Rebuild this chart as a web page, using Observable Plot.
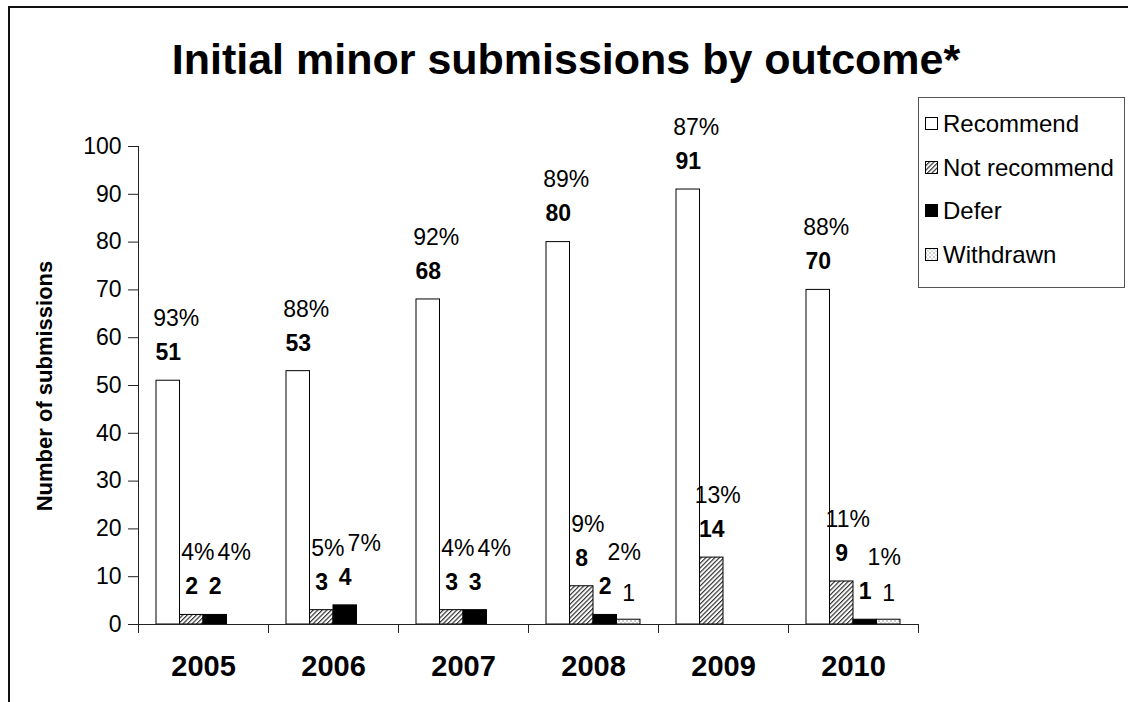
<!DOCTYPE html>
<html>
<head>
<meta charset="utf-8">
<script src="https://cdn.jsdelivr.net/npm/d3@7"></script>
<script src="https://cdn.jsdelivr.net/npm/@observablehq/plot@0.6"></script>
<style>
  body { margin: 0; background: #fff; font-family: "Liberation Sans", Arial, sans-serif; }
  #wrap { position: relative; width: 1128px; height: 702px; overflow: hidden; background: #fff; }
  #frame { position: absolute; left: 8px; top: 6px; width: 1200px; height: 800px;
           border-top: 2px solid #111; border-left: 2px solid #111; }
  #title { position: absolute; left: 0; width: 1132px; top: 38px; text-align: center;
           font-size: 43px; line-height: 43px; font-weight: bold; color: #000; white-space: nowrap; }
  #ylabel { position: absolute; left: 45px; top: 386px; transform: translate(-50%, -50%) rotate(-90deg);
            font-size: 22px; font-weight: bold; white-space: nowrap; color: #000; }
  #chart { position: absolute; left: 0; top: 100px; }
  #legend { position: absolute; left: 918px; top: 97px; width: 207px; height: 191px; box-sizing: border-box;
            border: 1px solid #555; background: #fff; padding: 4px 0 0 6px; }
  .item { display: flex; align-items: center; height: 43.7px; font-size: 24px; color: #000; white-space: nowrap; }
  .item svg { margin-right: 4px; flex: none; }
</style>
</head>
<body>
<svg width="0" height="0" style="position:absolute">
  <defs>
    <pattern id="hatch" patternUnits="userSpaceOnUse" width="3.2" height="3.2" patternTransform="rotate(45)">
      <rect width="3.2" height="3.2" fill="#fff"></rect>
      <line x1="0.6" y1="0" x2="0.6" y2="3.2" stroke="#333" stroke-width="1.2"></line>
    </pattern>
    <pattern id="dots" patternUnits="userSpaceOnUse" width="4" height="4">
      <rect width="4" height="4" fill="#fff"></rect>
      <rect x="0.5" y="0.5" width="1" height="1" fill="#333"></rect>
      <rect x="2.5" y="2.5" width="1" height="1" fill="#777"></rect>
    </pattern>
  </defs>
</svg>
<div id="wrap">
  <div id="frame"></div>
  <div id="title">Initial minor submissions by outcome*</div>
  <div id="ylabel">Number of submissions</div>
  <div id="chart"></div>
  <div id="legend"></div>
</div>
<script>
// ---- data ----
const years = ["2005", "2006", "2007", "2008", "2009", "2010"];
const outcomes = ["Recommend", "Not recommend", "Defer", "Withdrawn"];
const recommend    = [51, 53, 68, 80, 91, 70];
const notRecommend = [2, 3, 3, 8, 14, 9];
const defer        = [2, 4, 3, 2, 0, 1];
const withdrawn    = [0, 0, 0, 1, 0, 1];
const recommendPct    = [93, 88, 92, 89, 87, 88];
const notRecommendPct = [4, 5, 4, 9, 13, 11];
const deferPct        = [4, 7, 4, 2, null, 1];
const withdrawnPct    = [null, null, null, null, null, null];
const yTicks = [0, 10, 20, 30, 40, 50, 60, 70, 80, 90, 100];

const seriesValues = [recommend, notRecommend, defer, withdrawn];
const seriesPcts = [recommendPct, notRecommendPct, deferPct, withdrawnPct];
const rows = years.flatMap((year, i) => outcomes.map((outcome, j) => ({
  year, outcome, value: seriesValues[j][i], pct: seriesPcts[j][i]
})));
const bars = rows.filter(d => d.value > 0);

const fills = ["#fff", "url(#hatch)", "#000", "url(#dots)"];
const pctShift = {"Recommend": 8, "Not recommend": 6, "Defer": 19, "Withdrawn": 0};
const axisColor = "#222";

const pctMark = (o) => Plot.text(rows.filter(d => d.outcome === o && d.pct != null), {
  fx: "year", x: "outcome", y: "value", text: d => d.pct + "%",
  dy: -62, dx: pctShift[o], fontSize: 23, fill: "#000"
});

const chart = Plot.plot({
  width: 1128,
  height: 602,
  marginLeft: 138,
  marginRight: 210,
  marginTop: 46,
  marginBottom: 78,
  style: {fontFamily: "'Liberation Sans', Arial, sans-serif", color: axisColor, background: "transparent"},
  fx: {domain: years, padding: 0, round: false},
  x: {domain: outcomes, paddingInner: 0, paddingOuter: 0.766, round: false, axis: null},
  y: {domain: [0, 100], axis: null},
  color: {domain: outcomes, range: fills},
  marks: [
    Plot.axisY({ticks: yTicks, tickSize: 10, tickPadding: 7, fontSize: 23, label: null, fill: "#000"}),
    Plot.axisFx({anchor: "bottom", tickSize: 0, tickPadding: 31, fontSize: 29, fontWeight: "bold", label: null, fill: "#000"}),
    Plot.barY(bars, {fx: "year", x: "outcome", y: "value", fill: "outcome", stroke: "#000", strokeWidth: 1, inset: 0}),
    Plot.ruleY([0], {stroke: axisColor, strokeWidth: 1}),
    Plot.text(bars.filter(d => d.outcome !== "Withdrawn"), {
      fx: "year", x: "outcome", y: "value", text: d => String(d.value),
      dy: -28, fontSize: 23, fontWeight: "bold", fill: "#000"
    }),
    Plot.text(bars.filter(d => d.outcome === "Withdrawn"), {
      fx: "year", x: "outcome", y: "value", text: d => String(d.value),
      dy: -26, fontSize: 23, fill: "#000"
    }),
    pctMark("Recommend"),
    pctMark("Not recommend"),
    pctMark("Defer")
  ]
});

// y-axis line and category boundary ticks, from the plot's own scales
const fxs = chart.scale("fx");
const ys = chart.scale("y");
const y0 = ys.apply(0), y100 = ys.apply(100);
const left = fxs.range[0], right = fxs.range[1];
const g = d3.select(chart).append("g").attr("stroke", axisColor).attr("stroke-width", 1);
g.append("line").attr("x1", left + 0.5).attr("x2", left + 0.5).attr("y1", y100).attr("y2", y0);
const edges = years.map(y => fxs.apply(y)).concat([right]);
g.selectAll("line.edge").data(edges).join("line").attr("class", "edge")
  .attr("x1", d => Math.round(d) + 0.5).attr("x2", d => Math.round(d) + 0.5)
  .attr("y1", y0).attr("y2", y0 + 9);

document.getElementById("chart").appendChild(chart);

// legend
const legend = d3.select("#legend");
outcomes.forEach((o, i) => {
  const item = legend.append("div").attr("class", "item");
  const s = item.append("svg").attr("width", 14).attr("height", 14);
  s.append("rect").attr("x", 0.5).attr("y", 0.5).attr("width", 12).attr("height", 12)
    .attr("fill", fills[i]).attr("stroke", "#000");
  item.append("span").text(o);
});
</script>
</body>
</html>
